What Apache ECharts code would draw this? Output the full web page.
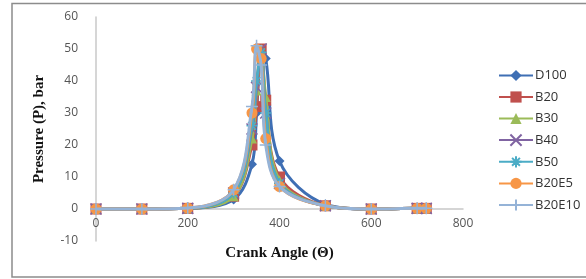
<!DOCTYPE html>
<html>
<head>
<meta charset="utf-8">
<script src="https://cdn.jsdelivr.net/npm/echarts@6/dist/echarts.min.js"></script>
<style>
  html, body { margin: 0; padding: 0; background: #fff; }
  #chart { width: 586px; height: 279px; }
</style>
</head>
<body>
<div id="chart"></div>
<script>
// crank angle points shared by all fuels
const angles = [0, 100, 200, 300, 340, 350, 360, 370, 400, 500, 600, 700, 720];

const seriesNames = ["D100", "B20", "B30", "B40", "B50", "B20E5", "B20E10"];
const d100 = [0, 0, 0.2, 3, 14, 30, 50, 47, 15, 1.5, 0, 0.2, 0.2];
const b20 = [0, 0, 0.2, 4, 20, 32, 50, 34, 10, 1, 0, 0.2, 0.2];
const b30 = [0, 0, 0.2, 4, 22, 37, 50, 35, 9, 1, 0, 0.2, 0.2];
const b40 = [0, 0, 0.2, 5, 25, 38, 50, 30, 8, 1, 0, 0.2, 0.2];
const b50 = [0, 0, 0.2, 5, 26, 40, 49, 30, 8, 1, 0, 0.2, 0.2];
const b20e5 = [0, 0, 0.3, 6, 30, 50, 47, 22, 7, 1, 0, 0.2, 0.2];
const b20e10 = [0, 0, 0.3, 6, 32, 51, 45, 20, 7, 1, 0, 0.2, 0.2];

const allValues = [d100, b20, b30, b40, b50, b20e5, b20e10];
const colors = ["#3f6fb4", "#c0504d", "#9bbb59", "#8064a2", "#4bacc6", "#f79646", "#95b3d7"];
const symbols = [
    "diamond",
    "rect",
    "triangle",
    "path://M0,0 L10,10 M10,0 L0,10 M0,0 Z",
    "path://M5,0 L5,10 M0,5 L10,5 M1.5,1.5 L8.5,8.5 M8.5,1.5 L1.5,8.5 Z",
    "circle",
    "path://M5,0 L5,10 M0,5 L10,5 Z"
];
const symbolSizes = [10, 11, 10, 11, 11, 11, 12];

const chart = echarts.init(document.getElementById("chart"));

const series = seriesNames.map((name, i) => ({
    name,
    type: "line",
    smooth: 0.35,
    data: angles.map((a, k) => [a, allValues[i][k]]),
    symbol: symbols[i],
    symbolSize: symbolSizes[i],
    showAllSymbol: true,
    lineStyle: { color: colors[i], width: 3 },
    itemStyle: {
        color: colors[i],
        borderColor: colors[i],
        borderWidth: (i === 3 || i === 4 || i === 6) ? 1.5 : 0
    },
    z: 2 + i
}));

chart.setOption({
    animation: false,
    backgroundColor: "#fff",
    graphic: [{
        type: "rect",
        shape: { x: 12, y: 3.5, width: 600, height: 273.5 },
        style: { fill: "none", stroke: "#8c8c8c", lineWidth: 1.5 },
        silent: true
    }],
    grid: { left: 96, right: 123, top: 17, bottom: 38, outerBoundsMode: "none" },
    legend: {
        orient: "vertical",
        left: 493,
        top: 64,
        itemGap: 8.5,
        itemWidth: 34,
        itemHeight: 14,
        textStyle: { fontFamily: "Open Sans", fontSize: 13, color: "#333", padding: [0, 0, 0, -3] },
        data: seriesNames
    },
    xAxis: {
        type: "value",
        min: 0,
        max: 800,
        interval: 200,
        name: "Crank Angle (\u0398)",
        nameLocation: "middle",
        nameGap: 5,
        nameMoveOverlap: false,
        nameTextStyle: { fontFamily: "Liberation Serif", fontWeight: "bold", fontSize: 15, color: "#111" },
        axisLine: { onZero: true, lineStyle: { color: "#c8c8c8", width: 1.5 } },
        axisTick: { show: false },
        splitLine: { show: false },
        axisLabel: { fontFamily: "Open Sans", fontSize: 12, color: "#555", margin: -23 }
    },
    yAxis: {
        type: "value",
        min: -10,
        max: 60,
        interval: 10,
        name: "Pressure (P), bar",
        nameLocation: "middle",
        nameGap: 49,
        nameTextStyle: { fontFamily: "Liberation Serif", fontWeight: "bold", fontSize: 15, color: "#111" },
        axisLine: { show: true, onZero: false, lineStyle: { color: "#c8c8c8", width: 1.5 } },
        axisTick: { show: false },
        splitLine: { show: false },
        axisLabel: { fontFamily: "Open Sans", fontSize: 12, color: "#555", margin: 18 }
    },
    series
});
</script>
</body>
</html>
